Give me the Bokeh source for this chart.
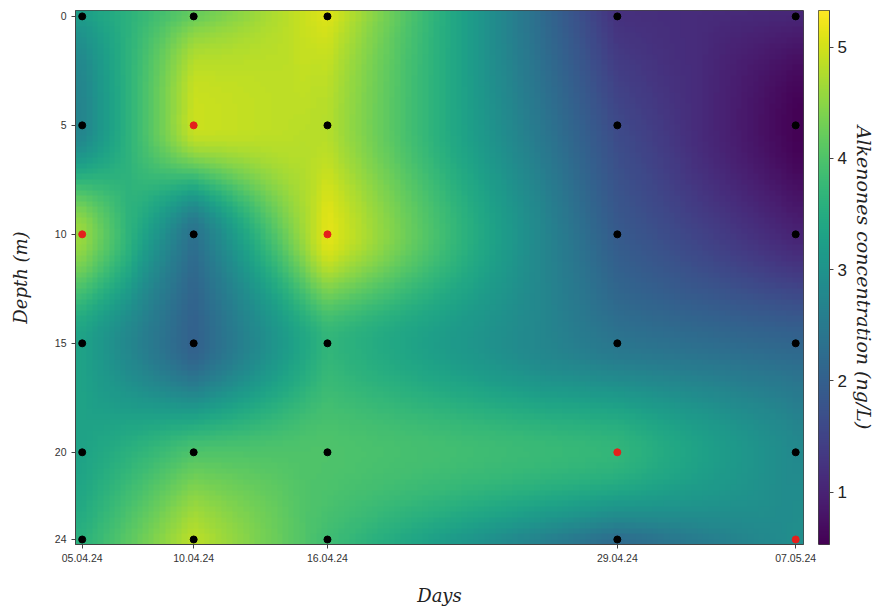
import numpy as np
from bokeh.plotting import figure
from bokeh.layouts import row
from bokeh.models import (Range1d, FixedTicker, LinearColorMapper)
from bokeh.palettes import Viridis256
from bokeh.embed import file_html
from bokeh.resources import INLINE

# ---- data -------------------------------------------------------------
day_labels = ["05.04.24", "10.04.24", "16.04.24", "29.04.24", "07.05.24"]
day_offsets = [0, 5, 11, 24, 32]          # days since 05.04.24
depths = [0, 5, 10, 15, 20, 24]           # m

# concentration (ng/L), one list per sampling day, ordered by depth
conc_0504 = [3.2, 2.7, 4.6, 3.3, 3.3, 3.6]
conc_1004 = [4.2, 4.95, 2.3, 2.0, 4.0, 4.85]
conc_1604 = [5.1, 4.8, 5.15, 3.7, 4.0, 3.85]
conc_2904 = [1.2, 1.6, 1.9, 2.4, 3.7, 2.2]
conc_0705 = [1.05, 0.55, 1.0, 2.1, 2.8, 2.9]

cbar_low, cbar_high = 0.53, 5.33
cbar_ticks = [1, 2, 3, 4, 5]

# ---- interpolation: linear along time, PCHIP along depth ---------------
def pchip(xk, yk, xq):
    xk = np.asarray(xk, float); yk = np.asarray(yk, float)
    xq = np.clip(np.asarray(xq, float), xk[0], xk[-1])
    n = len(xk)
    h = np.diff(xk); dl = np.diff(yk) / h
    d = np.zeros(n)
    for k in range(1, n - 1):
        if dl[k - 1] * dl[k] > 0:
            w1 = 2 * h[k] + h[k - 1]; w2 = h[k] + 2 * h[k - 1]
            d[k] = (w1 + w2) / (w1 / dl[k - 1] + w2 / dl[k])
    def endslope(h0, h1, d0, d1):
        s = ((2 * h0 + h1) * d0 - h0 * d1) / (h0 + h1)
        if np.sign(s) != np.sign(d0):
            s = 0.0
        elif np.sign(d0) != np.sign(d1) and abs(s) > abs(3 * d0):
            s = 3 * d0
        return s
    d[0] = endslope(h[0], h[1], dl[0], dl[1])
    d[-1] = endslope(h[-1], h[-2], dl[-1], dl[-2])
    k = np.clip(np.searchsorted(xk, xq) - 1, 0, n - 2)
    t = (xq - xk[k]) / h[k]
    h00 = 2 * t**3 - 3 * t**2 + 1; h10 = t**3 - 2 * t**2 + t
    h01 = -2 * t**3 + 3 * t**2;    h11 = t**3 - t**2
    return h00 * yk[k] + h10 * h[k] * d[k] + h01 * yk[k + 1] + h11 * h[k] * d[k + 1]

columns = [conc_0504, conc_1004, conc_1604, conc_2904, conc_0705]
V = np.array(columns).T  # depth x day

x0, x1 = -0.3, 32.35
y0, y1 = -0.27, 24.23
nx, ny = 130, 98
xc = x0 + (np.arange(nx) + 0.5) * (x1 - x0) / nx
yc = y0 + (np.arange(ny) + 0.5) * (y1 - y0) / ny
rows_x = np.array([np.interp(xc, day_offsets, V[i]) for i in range(len(depths))])  # depth x nx
grid = np.array([pchip(depths, rows_x[:, j], yc) for j in range(nx)]).T             # ny x nx
rep = 6
grid_img = np.repeat(np.repeat(grid, rep, axis=0), rep, axis=1)

mapper = LinearColorMapper(palette=Viridis256, low=cbar_low, high=cbar_high)

# ---- main figure -------------------------------------------------------
p = figure(width=817, height=608, output_backend="svg", toolbar_location=None,
           x_range=Range1d(x0, x1), y_range=Range1d(y1, y0),
           min_border_left=75, min_border_right=14, min_border_top=10, min_border_bottom=63)
p.image(image=[grid_img], x=x0, y=y0, dw=x1 - x0, dh=y1 - y0, color_mapper=mapper)

xs, ys, cols = [], [], []
for di, vals in zip(day_offsets, columns):
    imax = int(np.argmax(vals))
    for k, d in enumerate(depths):
        xs.append(di); ys.append(d); cols.append("#e3211c" if k == imax else "black")
p.scatter(x=xs, y=ys, size=7, color=cols, line_color=cols)

p.xgrid.visible = False
p.ygrid.visible = False
p.outline_line_color = "#444444"
p.outline_line_width = 1

tick_font = "'Liberation Sans', sans-serif"
label_font = "'DejaVu Serif', serif"
p.xaxis.ticker = FixedTicker(ticks=day_offsets)
p.xaxis.major_label_overrides = {d: l for d, l in zip(day_offsets, day_labels)}
p.yaxis.ticker = FixedTicker(ticks=depths)
for ax in (p.xaxis[0], p.yaxis[0]):
    ax.major_label_text_font = tick_font
    ax.major_label_text_font_size = "10.5px"
    ax.major_label_text_color = "#333333"
    ax.minor_tick_line_color = None
    ax.major_tick_in = 0
    ax.major_tick_out = 4
    ax.major_tick_line_color = "#444444"
    ax.axis_line_color = "#444444"
    ax.axis_label_text_font = label_font
    ax.axis_label_text_font_style = "italic"
    ax.axis_label_text_font_size = "18px"
    ax.axis_label_text_color = "#222222"
p.xaxis.axis_label = "Days"
p.yaxis.axis_label = "Depth (m)"
p.xaxis.axis_label_standoff = 20
p.yaxis.axis_label_standoff = 21

# ---- colour bar figure -------------------------------------------------
cb = figure(width=60, height=608, output_backend="svg", toolbar_location=None,
            x_range=Range1d(0, 1), y_range=Range1d(cbar_low, cbar_high),
            y_axis_location="right",
            min_border_left=1, min_border_right=47, min_border_top=10, min_border_bottom=63)
grad = np.repeat(np.linspace(cbar_low, cbar_high, 256).reshape(256, 1), 4, axis=1)
cb.image(image=[grad], x=0, y=cbar_low, dw=1, dh=cbar_high - cbar_low, color_mapper=mapper)
cb.xaxis.visible = False
cb.xgrid.visible = False
cb.ygrid.visible = False
cb.outline_line_color = "#444444"
ya = cb.yaxis[0]
ya.ticker = FixedTicker(ticks=cbar_ticks)
ya.major_label_text_font = "'Liberation Sans', sans-serif"
ya.major_label_text_font_size = "17px"
ya.major_label_text_color = "#222222"
ya.minor_tick_line_color = None
ya.major_tick_in = 0
ya.major_tick_out = 4
ya.major_tick_line_color = "#444444"
ya.axis_line_color = "#444444"
ya.major_label_standoff = 4
ya.axis_label = "Alkenones concentration (ng/L)"
ya.axis_label_text_font = label_font
ya.axis_label_text_font_style = "italic"
ya.axis_label_text_font_size = "19px"
ya.axis_label_text_color = "#222222"
ya.axis_label_standoff = 3

layout = row(p, cb)
open("out.html", "w").write(file_html(layout, INLINE))
